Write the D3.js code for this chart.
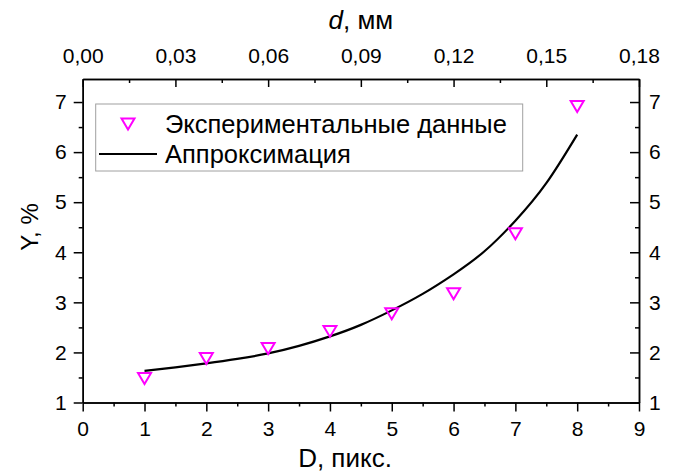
<!DOCTYPE html>
<meta charset="utf-8">
<style>
body { margin: 0; background: #fff; }
text { font-family: "Liberation Sans", Arial, sans-serif; fill: #000; }
.axis text { font-size: 21px; }
.axis path, .axis line { stroke: #000; stroke-width: 1.5px; }
</style>
<body>
<div id="plotHere"></div>
<script src="https://cdn.jsdelivr.net/npm/d3@7"></script>
<script>
// ---------------- data ----------------
const pixD = [1, 2, 3, 4, 5, 6, 7, 8];                                // D, pixels
const expY = [1.48, 1.88, 2.08, 2.42, 2.77, 3.17, 4.37, 6.91];        // experiment, %
const fitD = [1, 1.5, 2, 2.5, 3, 3.5, 4, 4.5, 5, 5.5, 6, 6.5, 7, 7.5, 8];
const fitY = [1.63, 1.70, 1.78, 1.87, 1.98, 2.13, 2.32, 2.55, 2.84, 3.17, 3.56, 4.02, 4.63, 5.38, 6.35];
const xTicks = [0, 1, 2, 3, 4, 5, 6, 7, 8, 9];
const yTicks = [1, 2, 3, 4, 5, 6, 7];
const dTicks = [0, 0.03, 0.06, 0.09, 0.12, 0.15, 0.18];
const legendLabels = ["Экспериментальные данные", "Аппроксимация"];

const W = 673, H = 472;
const pLeft = 82.7, pRight = 639, pTop = 79, pBottom = 402.5;

const svg = d3.select("#plotHere").append("svg")
    .attr("width", W).attr("height", H);

// scales
const x = d3.scaleLinear().domain([0, 9]).range([pLeft, pRight]);
const y = d3.scaleLinear().domain([1, 7.46]).range([pBottom, pTop]);
const xd = d3.scaleLinear().domain([0, 0.18]).range([pLeft, pRight]);

const ru = d3.formatLocale({decimal: ",", thousands: " ", grouping: [3], currency: ["", ""]});
const f2 = ru.format(".2f");
const f0 = d3.format("d");

const halves = (a, b, s) => d3.range(a + s / 2, b, s);

// ---------------- axes ----------------
// bottom
svg.append("g").attr("class", "axis")
    .attr("transform", "translate(0," + pBottom + ")")
    .call(d3.axisBottom(x).tickValues(halves(0, 9, 1)).tickSize(4).tickSizeOuter(0).tickFormat(""));
svg.append("g").attr("class", "axis")
    .attr("transform", "translate(0," + pBottom + ")")
    .call(d3.axisBottom(x).tickValues(xTicks).tickSize(9).tickSizeOuter(0).tickPadding(10).tickFormat(f0));

// top (d, mm), ticks inward
svg.append("g").attr("class", "axis")
    .attr("transform", "translate(0," + pTop + ")")
    .call(d3.axisTop(xd).tickValues(halves(0, 0.18, 0.03)).tickSize(-4).tickSizeOuter(0).tickFormat(""));
svg.append("g").attr("class", "axis")
    .attr("transform", "translate(0," + pTop + ")")
    .call(d3.axisTop(xd).tickValues(dTicks).tickSize(-8).tickSizeOuter(0).tickPadding(16).tickFormat(f2));

// left
svg.append("g").attr("class", "axis")
    .attr("transform", "translate(" + pLeft + ",0)")
    .call(d3.axisLeft(y).tickValues(halves(1, 7.4, 1)).tickSize(4).tickSizeOuter(0).tickFormat(""));
svg.append("g").attr("class", "axis")
    .attr("transform", "translate(" + pLeft + ",0)")
    .call(d3.axisLeft(y).tickValues(yTicks).tickSize(9).tickSizeOuter(0).tickPadding(7).tickFormat(f0));

// right, ticks inward
svg.append("g").attr("class", "axis")
    .attr("transform", "translate(" + pRight + ",0)")
    .call(d3.axisRight(y).tickValues(halves(1, 7.4, 1)).tickSize(-4).tickSizeOuter(0).tickFormat(""));
svg.append("g").attr("class", "axis")
    .attr("transform", "translate(" + pRight + ",0)")
    .call(d3.axisRight(y).tickValues(yTicks).tickSize(-9).tickSizeOuter(0).tickPadding(10).tickFormat(f0));

// axis titles
svg.append("text")
    .attr("x", 345).attr("y", 467)
    .attr("text-anchor", "middle")
    .style("font-size", "26px")
    .text("D, пикс.");

const tt = svg.append("text")
    .attr("x", (pLeft + pRight) / 2).attr("y", 29)
    .attr("text-anchor", "middle")
    .style("font-size", "26px");
tt.append("tspan").style("font-style", "italic").text("d");
tt.append("tspan").text(", мм");

svg.append("text")
    .attr("transform", "translate(38,227) rotate(-90)")
    .attr("text-anchor", "middle")
    .style("font-size", "24px")
    .text("Y, %");

// ---------------- fit line ----------------
const line = d3.line()
    .x((d, i) => x(fitD[i]))
    .y(d => y(d))
    .curve(d3.curveNatural);

svg.append("path")
    .datum(fitY)
    .attr("d", line)
    .attr("fill", "none")
    .attr("stroke", "#000")
    .attr("stroke-width", 2.2);

// ---------------- markers ----------------
const tri = "M-6.5,-5.5L6.5,-5.5L0,5.5Z";
svg.append("g").selectAll("path")
    .data(expY)
    .join("path")
    .attr("transform", (d, i) => "translate(" + x(pixD[i]) + "," + y(d) + ")")
    .attr("d", tri)
    .attr("fill", "none")
    .attr("stroke", "#ff00ff")
    .attr("stroke-width", 2);

// ---------------- legend ----------------
const lg = svg.append("g");
lg.append("rect")
    .attr("x", 95.7).attr("y", 104)
    .attr("width", 427).attr("height", 67)
    .attr("fill", "#fff")
    .attr("stroke", "#a0a0a0")
    .attr("stroke-width", 1);
lg.append("path")
    .attr("transform", "translate(128,124)")
    .attr("d", tri)
    .attr("fill", "none")
    .attr("stroke", "#ff00ff")
    .attr("stroke-width", 2);
lg.append("line")
    .attr("x1", 99).attr("x2", 157).attr("y1", 154).attr("y2", 154)
    .attr("stroke", "#000").attr("stroke-width", 2.2);
lg.selectAll("text.lab")
    .data(legendLabels)
    .join("text")
    .attr("class", "lab")
    .attr("x", 165)
    .attr("y", (d, i) => 133.3 + i * 29.7)
    .style("font-size", "25.5px")
    .text(d => d);
</script>
</body>
